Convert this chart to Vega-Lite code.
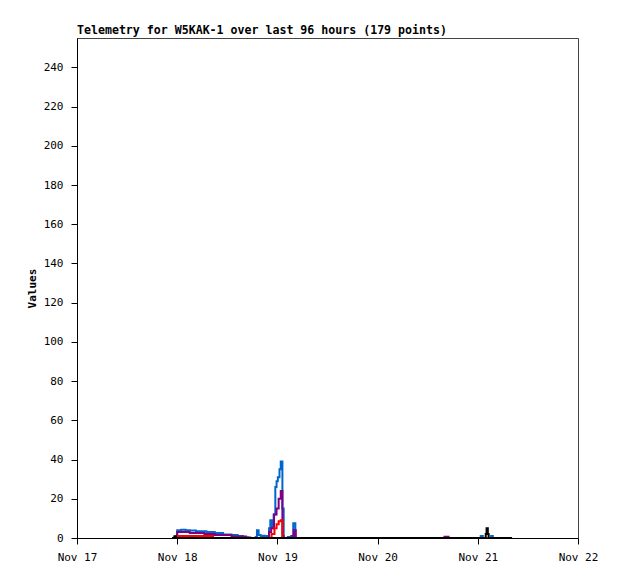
{
  "$schema": "https://vega.github.io/schema/vega-lite/v6.json",
  "width": 501,
  "height": 500,
  "autosize": {"type": "none"},
  "padding": {"left": 77, "top": 38, "right": 40, "bottom": 41},
  "background": "white",
  "title": {
    "text": "Telemetry for W5KAK-1 over last 96 hours (179 points)",
    "anchor": "start",
    "frame": "group",
    "font": "DejaVu Sans Mono",
    "fontSize": 11.6,
    "fontWeight": "bold",
    "color": "#000",
    "offset": 1
  },
  "config": {
    "view": {"stroke": "#444", "strokeWidth": 1},
    "axis": {
      "labelFont": "DejaVu Sans Mono",
      "labelFontSize": 11,
      "labelColor": "#000",
      "titleFont": "DejaVu Sans Mono",
      "titleFontSize": 11,
      "titleColor": "#000",
      "domainColor": "#000",
      "tickColor": "#000",
      "grid": false
    }
  },
  "data": {
    "values": [
      {"t": "2023-11-17T22:45:00Z", "ch": "A", "v": 0},
      {"t": "2023-11-17T23:30:00Z", "ch": "A", "v": 1},
      {"t": "2023-11-18T00:00:00Z", "ch": "A", "v": 4},
      {"t": "2023-11-18T01:00:00Z", "ch": "A", "v": 4.2},
      {"t": "2023-11-18T02:00:00Z", "ch": "A", "v": 4},
      {"t": "2023-11-18T03:00:00Z", "ch": "A", "v": 3.8},
      {"t": "2023-11-18T04:30:00Z", "ch": "A", "v": 3.5},
      {"t": "2023-11-18T06:00:00Z", "ch": "A", "v": 3.4},
      {"t": "2023-11-18T07:00:00Z", "ch": "A", "v": 3},
      {"t": "2023-11-18T09:00:00Z", "ch": "A", "v": 2.5},
      {"t": "2023-11-18T11:00:00Z", "ch": "A", "v": 1.8},
      {"t": "2023-11-18T13:00:00Z", "ch": "A", "v": 1.5},
      {"t": "2023-11-18T14:30:00Z", "ch": "A", "v": 1},
      {"t": "2023-11-18T15:45:00Z", "ch": "A", "v": 0.3},
      {"t": "2023-11-18T17:00:00Z", "ch": "A", "v": 0},
      {"t": "2023-11-18T18:48:00Z", "ch": "A", "v": 0.5},
      {"t": "2023-11-18T19:06:00Z", "ch": "A", "v": 4},
      {"t": "2023-11-18T19:30:00Z", "ch": "A", "v": 1.5},
      {"t": "2023-11-18T20:00:00Z", "ch": "A", "v": 0.5},
      {"t": "2023-11-18T20:30:00Z", "ch": "A", "v": 1.2},
      {"t": "2023-11-18T21:00:00Z", "ch": "A", "v": 0.3},
      {"t": "2023-11-18T21:30:00Z", "ch": "A", "v": 1},
      {"t": "2023-11-18T22:00:00Z", "ch": "A", "v": 5},
      {"t": "2023-11-18T22:18:00Z", "ch": "A", "v": 9},
      {"t": "2023-11-18T22:42:00Z", "ch": "A", "v": 5},
      {"t": "2023-11-18T23:06:00Z", "ch": "A", "v": 12},
      {"t": "2023-11-18T23:30:00Z", "ch": "A", "v": 26},
      {"t": "2023-11-18T23:48:00Z", "ch": "A", "v": 29},
      {"t": "2023-11-19T00:06:00Z", "ch": "A", "v": 31},
      {"t": "2023-11-19T00:30:00Z", "ch": "A", "v": 35},
      {"t": "2023-11-19T00:48:00Z", "ch": "A", "v": 39},
      {"t": "2023-11-19T01:12:00Z", "ch": "A", "v": 15},
      {"t": "2023-11-19T01:30:00Z", "ch": "A", "v": 0},
      {"t": "2023-11-19T02:30:00Z", "ch": "A", "v": 0.5},
      {"t": "2023-11-19T03:18:00Z", "ch": "A", "v": 1},
      {"t": "2023-11-19T03:48:00Z", "ch": "A", "v": 7.5},
      {"t": "2023-11-19T04:18:00Z", "ch": "A", "v": 0},
      {"t": "2023-11-21T00:30:00Z", "ch": "A", "v": 0},
      {"t": "2023-11-21T00:42:00Z", "ch": "A", "v": 1},
      {"t": "2023-11-21T01:12:00Z", "ch": "A", "v": 0},
      {"t": "2023-11-21T03:12:00Z", "ch": "A", "v": 1},
      {"t": "2023-11-21T03:36:00Z", "ch": "A", "v": 0},
      {"t": "2023-11-21T08:12:00Z", "ch": "A", "v": 0},
      {"t": "2023-11-17T23:54:00Z", "ch": "B", "v": 0},
      {"t": "2023-11-18T00:00:00Z", "ch": "B", "v": 3},
      {"t": "2023-11-18T03:00:00Z", "ch": "B", "v": 2.5},
      {"t": "2023-11-18T06:30:00Z", "ch": "B", "v": 2},
      {"t": "2023-11-18T09:00:00Z", "ch": "B", "v": 1.5},
      {"t": "2023-11-18T13:00:00Z", "ch": "B", "v": 0.8},
      {"t": "2023-11-18T16:30:00Z", "ch": "B", "v": 0.3},
      {"t": "2023-11-18T17:30:00Z", "ch": "B", "v": 0},
      {"t": "2023-11-18T22:00:00Z", "ch": "B", "v": 3},
      {"t": "2023-11-18T22:30:00Z", "ch": "B", "v": 5},
      {"t": "2023-11-18T23:12:00Z", "ch": "B", "v": 12},
      {"t": "2023-11-18T23:48:00Z", "ch": "B", "v": 15},
      {"t": "2023-11-19T00:18:00Z", "ch": "B", "v": 20},
      {"t": "2023-11-19T00:48:00Z", "ch": "B", "v": 24},
      {"t": "2023-11-19T01:12:00Z", "ch": "B", "v": 1},
      {"t": "2023-11-19T01:30:00Z", "ch": "B", "v": 0},
      {"t": "2023-11-19T03:36:00Z", "ch": "B", "v": 1},
      {"t": "2023-11-19T03:54:00Z", "ch": "B", "v": 4},
      {"t": "2023-11-19T04:24:00Z", "ch": "B", "v": 0},
      {"t": "2023-11-20T15:30:00Z", "ch": "B", "v": 0},
      {"t": "2023-11-20T16:00:00Z", "ch": "B", "v": 0.6},
      {"t": "2023-11-20T17:00:00Z", "ch": "B", "v": 0},
      {"t": "2023-11-21T08:12:00Z", "ch": "B", "v": 0},
      {"t": "2023-11-18T00:00:00Z", "ch": "C", "v": 1},
      {"t": "2023-11-18T08:30:00Z", "ch": "C", "v": 1},
      {"t": "2023-11-18T08:36:00Z", "ch": "C", "v": 0},
      {"t": "2023-11-18T22:12:00Z", "ch": "C", "v": 0},
      {"t": "2023-11-18T22:36:00Z", "ch": "C", "v": 2},
      {"t": "2023-11-18T23:18:00Z", "ch": "C", "v": 5},
      {"t": "2023-11-18T23:48:00Z", "ch": "C", "v": 7},
      {"t": "2023-11-19T00:18:00Z", "ch": "C", "v": 8.5},
      {"t": "2023-11-19T00:48:00Z", "ch": "C", "v": 9},
      {"t": "2023-11-19T01:12:00Z", "ch": "C", "v": 0},
      {"t": "2023-11-21T08:12:00Z", "ch": "C", "v": 0},
      {"t": "2023-11-17T22:45:00Z", "ch": "D", "v": 0},
      {"t": "2023-11-17T23:18:00Z", "ch": "D", "v": 0.8},
      {"t": "2023-11-17T23:42:00Z", "ch": "D", "v": 0},
      {"t": "2023-11-21T01:36:00Z", "ch": "D", "v": 0},
      {"t": "2023-11-21T01:54:00Z", "ch": "D", "v": 2},
      {"t": "2023-11-21T02:06:00Z", "ch": "D", "v": 5},
      {"t": "2023-11-21T02:24:00Z", "ch": "D", "v": 2},
      {"t": "2023-11-21T02:36:00Z", "ch": "D", "v": 0},
      {"t": "2023-11-21T08:12:00Z", "ch": "D", "v": 0}
    ]
  },
  "mark": {"type": "line", "interpolate": "step-after", "strokeWidth": 2, "clip": true},
  "encoding": {
    "x": {
      "field": "t",
      "type": "temporal",
      "scale": {"type": "utc", "domain": [{"year": 2023, "month": 11, "date": 17, "utc": true}, {"year": 2023, "month": 11, "date": 22, "utc": true}], "nice": false},
      "axis": {
        "title": null,
        "labelExpr": "utcFormat(datum.value, '%b %d')",
        "values": [
          {"year": 2023, "month": 11, "date": 17, "utc": true},
          {"year": 2023, "month": 11, "date": 18, "utc": true},
          {"year": 2023, "month": 11, "date": 19, "utc": true},
          {"year": 2023, "month": 11, "date": 20, "utc": true},
          {"year": 2023, "month": 11, "date": 21, "utc": true},
          {"year": 2023, "month": 11, "date": 22, "utc": true}
        ],
        "tickSize": 6,
        "labelPadding": 7,
        "labelFlush": false,
        "labelOverlap": false
      }
    },
    "y": {
      "field": "v",
      "type": "quantitative",
      "scale": {"domain": [0, 255], "nice": false},
      "axis": {
        "title": "Values",
        "titleFontWeight": "bold",
        "titlePadding": 6,
        "values": [0, 20, 40, 60, 80, 100, 120, 140, 160, 180, 200, 220, 240],
        "tickSize": 6,
        "labelPadding": 8
      }
    },
    "color": {
      "field": "ch",
      "type": "nominal",
      "scale": {"domain": ["A", "B", "C", "D"], "range": ["#0066cc", "#800080", "#ff0000", "#000000"]},
      "legend": null
    }
  }
}
